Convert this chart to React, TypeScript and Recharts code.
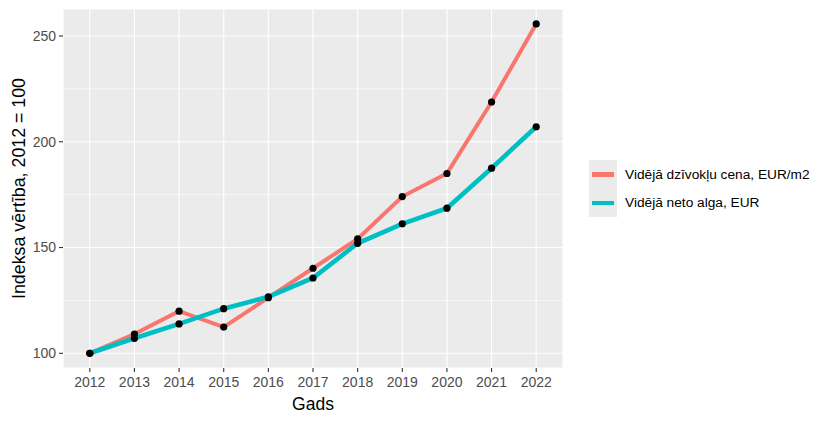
import React from 'react';
import { LineChart, Line, XAxis, YAxis, CartesianGrid, ReferenceLine } from 'recharts';

const years = [2012, 2013, 2014, 2015, 2016, 2017, 2018, 2019, 2020, 2021, 2022];
const priceIndex = [100, 109.1, 119.9, 112.4, 126.3, 140.2, 154.1, 174.1, 185.0, 218.8, 255.7];
const wageIndex = [100, 107.1, 113.9, 121.1, 126.7, 135.6, 152.0, 161.2, 168.6, 187.5, 207.1];
const yTicks = [100, 150, 200, 250];
const yMinor = [125, 175, 225];
const seriesNames = ['Vidējā dzīvokļu cena, EUR/m2', 'Vidējā neto alga, EUR'];
const seriesColors = ['#F8766D', '#00BFC4'];

const data = years.map((y, i) => ({ year: y, price: priceIndex[i], wage: wageIndex[i] }));

const FONT = '"Liberation Sans", Arial, sans-serif';

const LegendContent = () => (
  <div style={{ fontFamily: FONT, position: 'absolute', left: 589, top: 160 }}>
    {seriesNames.map((n, i) => (
      <div key={n} style={{ display: 'flex', alignItems: 'center', height: 28.5 }}>
        <div style={{ width: 28, height: 28.5, background: '#EBEBEB', display: 'flex', alignItems: 'center', justifyContent: 'center' }}>
          <div style={{ width: 22, height: 4.5, background: seriesColors[i] }} />
        </div>
        <span style={{ marginLeft: 8, fontSize: 13.7, color: '#000', whiteSpace: 'nowrap' }}>{n}</span>
      </div>
    ))}
  </div>
);

export default function App() {
  return (
    <div style={{ position: 'absolute', left: 0, top: 0, width: 828, height: 423, background: '#fff', fontFamily: FONT }}>
      <LineChart width={828} height={423} data={data} margin={{ top: 9, right: 265, bottom: 0, left: 0 }}>
        <CartesianGrid fill="#EBEBEB" stroke="#FFFFFF" strokeWidth={1.1} />
        {yMinor.map((v) => (
          <ReferenceLine key={v} y={v} stroke="#FFFFFF" strokeWidth={0.6} />
        ))}
        <XAxis
          dataKey="year"
          type="number"
          domain={[2011.4, 2022.6]}
          ticks={years}
          allowDataOverflow
          height={55}
          axisLine={false}
          tickLine={{ stroke: '#333333', strokeWidth: 1.1 }}
          tickSize={4}
          tickMargin={5}
          tick={{ fill: '#4D4D4D', fontSize: 14, fontFamily: FONT }}
          interval={0}
          label={{
            content: (props: any) => {
              const vb = props.viewBox;
              return (
                <text x={vb.x + vb.width / 2} y={vb.y + 42} textAnchor="middle" fontSize={17.5} fill="#000" fontFamily={FONT}>
                  Gads
                </text>
              );
            },
          }}
        />
        <YAxis
          type="number"
          domain={[93.05, 262.76]}
          ticks={yTicks}
          allowDataOverflow
          width={63}
          axisLine={false}
          tickLine={{ stroke: '#333333', strokeWidth: 1.1 }}
          tickSize={4}
          tickMargin={3}
          tick={{ fill: '#4D4D4D', fontSize: 14, fontFamily: FONT }}
          label={{
            content: (props: any) => {
              const vb = props.viewBox;
              const cy = vb.y + vb.height / 2;
              const x = 25;
              return (
                <text x={x} y={cy} transform={`rotate(-90, ${x}, ${cy})`} textAnchor="middle" fontSize={17.8} fill="#000" fontFamily={FONT}>
                  Indeksa vērtība, 2012 = 100
                </text>
              );
            },
          }}
        />
        <Line type="linear" dataKey="price" name={seriesNames[0]} stroke={seriesColors[0]} strokeWidth={4} dot={false} activeDot={false} isAnimationActive={false} />
        <Line type="linear" dataKey="wage" name={seriesNames[1]} stroke={seriesColors[1]} strokeWidth={4.6} dot={false} activeDot={false} isAnimationActive={false} />
        <Line type="linear" dataKey="price" stroke="none" legendType="none" dot={{ r: 3.6, fill: '#000', stroke: 'none' }} activeDot={false} isAnimationActive={false} />
        <Line type="linear" dataKey="wage" stroke="none" legendType="none" dot={{ r: 3.6, fill: '#000', stroke: 'none' }} activeDot={false} isAnimationActive={false} />
      </LineChart>
      <LegendContent />
    </div>
  );
}
